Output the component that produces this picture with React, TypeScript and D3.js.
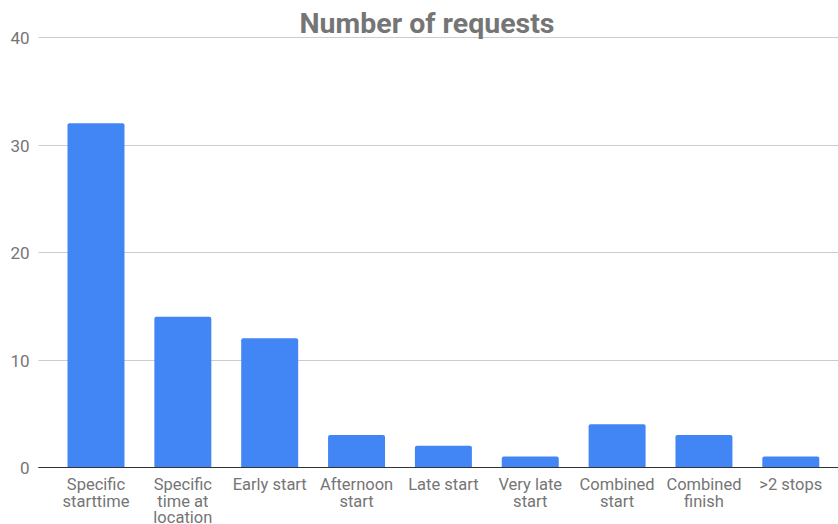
import React, { useEffect, useRef } from 'react';
import * as d3 from 'd3';

const categories = [
  'Specific\nstarttime',
  'Specific\ntime at\nlocation',
  'Early start',
  'Afternoon\nstart',
  'Late start',
  'Very late\nstart',
  'Combined\nstart',
  'Combined\nfinish',
  '>2 stops',
];
const requests = [32, 14, 12, 3, 2, 1, 4, 3, 1];
const yTicks = [0, 10, 20, 30, 40];
const title = 'Number of requests';

export default function App() {
  const ref = useRef<SVGSVGElement>(null);

  useEffect(() => {
    const width = 838;
    const height = 524;
    const svg = d3.select(ref.current).attr('width', width).attr('height', height);
    svg.selectAll('*').remove();

    const left = 38.5;
    const x = d3.scaleBand<string>()
      .domain(categories)
      .range([left, 848.3])
      .paddingInner(0.344)
      .paddingOuter(0.334);
    const y = d3.scaleLinear().domain([0, 40]).range([467.3, 37.3]);

    const font = 'Roboto, sans-serif';
    const grey = '#757575';

    // gridlines + y labels
    const g = svg.append('g');
    yTicks.forEach(t => {
      const yy = Math.round(y(t)) + 0.5;
      g.append('line')
        .attr('x1', left).attr('x2', width)
        .attr('y1', yy).attr('y2', yy)
        .attr('stroke', t === 0 ? '#333' : '#ccc')
        .attr('stroke-width', 1);
      g.append('text')
        .attr('x', 29.5).attr('y', yy)
        .attr('dy', '0.36em')
        .attr('text-anchor', 'end')
        .attr('font-family', font).attr('font-size', 17)
        .attr('fill', grey)
        .text(t);
    });

    // bars, rounded top corners
    const r = 2;
    svg.append('g').selectAll('path')
      .data(requests)
      .join('path')
      .attr('fill', '#4285f4')
      .attr('d', (d, i) => {
        const x0 = x(categories[i])!;
        const x1 = x0 + x.bandwidth();
        const y0 = y(d);
        const yb = y(0);
        return `M${x0},${yb}V${y0 + r}Q${x0},${y0} ${x0 + r},${y0}H${x1 - r}Q${x1},${y0} ${x1},${y0 + r}V${yb}Z`;
      });

    // baseline on top of bars
    svg.append('line')
      .attr('x1', left).attr('x2', width)
      .attr('y1', Math.round(y(0)) + 0.5).attr('y2', Math.round(y(0)) + 0.5)
      .attr('stroke', '#333');

    // x labels
    const xl = svg.append('g');
    categories.forEach(c => {
      const cx = x(c)! + x.bandwidth() / 2;
      const t = xl.append('text')
        .attr('text-anchor', 'middle')
        .attr('font-family', font).attr('font-size', 16.5)
        .attr('fill', grey);
      c.split('\n').forEach((line, k) => {
        t.append('tspan').attr('x', cx).attr('y', 490 + k * 16.6).text(line);
      });
    });

    svg.append('text')
      .attr('x', 427).attr('y', 33)
      .attr('text-anchor', 'middle')
      .attr('font-family', font).attr('font-size', 28.5).attr('font-weight', 'bold')
      .attr('fill', grey)
      .text(title);
  }, []);

  return <svg ref={ref} style={{ position: 'absolute', left: 0, top: 0 }} />;
}
